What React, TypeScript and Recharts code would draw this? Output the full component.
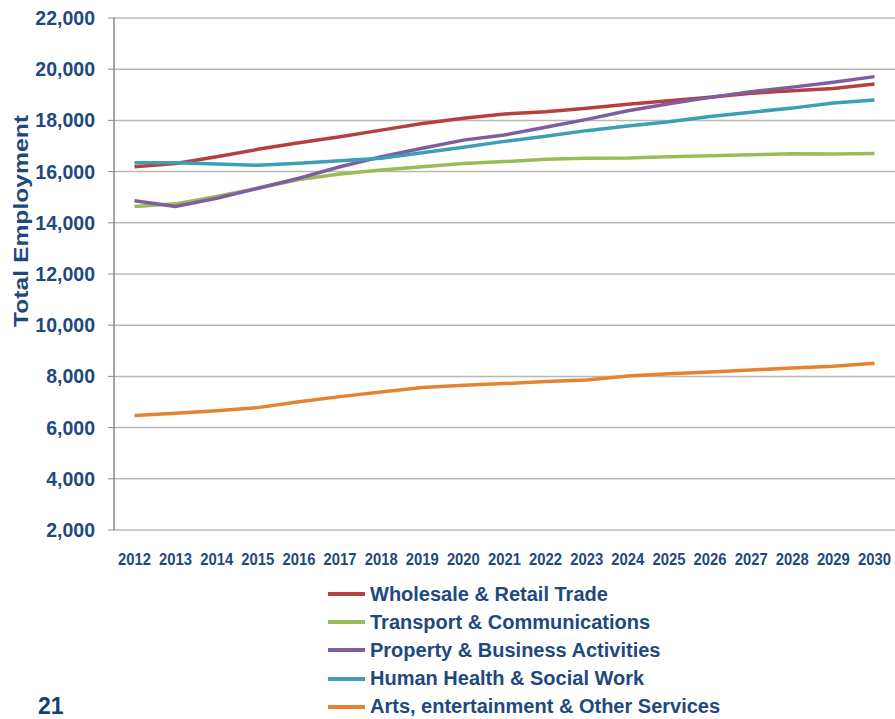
import React from 'react';
import { LineChart, Line, XAxis, YAxis, CartesianGrid } from 'recharts';

const years = ['2012','2013','2014','2015','2016','2017','2018','2019','2020','2021','2022','2023','2024','2025','2026','2027','2028','2029','2030'];
const wholesale = [16190,16320,16580,16870,17130,17360,17620,17880,18080,18250,18340,18470,18630,18770,18900,19060,19160,19250,19420];
const transport = [14640,14740,15030,15350,15690,15910,16060,16190,16320,16390,16480,16520,16530,16580,16620,16660,16700,16690,16710];
const property = [14860,14640,14960,15350,15740,16190,16580,16910,17230,17430,17730,18040,18380,18650,18900,19120,19300,19490,19710];
const health = [16350,16350,16300,16250,16330,16420,16520,16740,16950,17180,17380,17600,17780,17950,18150,18320,18480,18680,18800];
const arts = [6470,6560,6660,6780,7010,7210,7390,7570,7650,7720,7800,7860,8020,8100,8170,8250,8330,8400,8510];
const yTicks = [2000,4000,6000,8000,10000,12000,14000,16000,18000,20000,22000];
const boundaryTicks = Array.from({ length: years.length + 1 }, (_, i) => i);

const series = [
  { key: 'wholesale', name: 'Wholesale & Retail Trade', color: '#B5403D', values: wholesale },
  { key: 'transport', name: 'Transport & Communications', color: '#9BBB59', values: transport },
  { key: 'property', name: 'Property & Business Activities', color: '#7D5FA0', values: property },
  { key: 'health', name: 'Human Health & Social Work', color: '#3D9EB8', values: health },
  { key: 'arts', name: 'Arts, entertainment & Other Services', color: '#E8822F', values: arts },
];

const data = years.map((y, i) => {
  const row: any = { year: y };
  series.forEach(s => { row[s.key] = s.values[i]; });
  return row;
});

const NAVY = '#1F497D';
const FONT = '"Liberation Sans", Arial, sans-serif';

const YearTick = (props: any) => {
  const { x, y, payload } = props;
  return (
    <text x={x} y={y} dy={11} textAnchor="middle" fill={NAVY} fontSize={16.5} fontWeight="bold" fontFamily={FONT} textLength={33} lengthAdjust="spacingAndGlyphs">
      {payload.value}
    </text>
  );
};

export default function App() {
  return (
    <div style={{ position: 'absolute', left: 0, top: 0, width: 895, height: 719, background: '#fff', fontFamily: FONT }}>
      <LineChart width={895} height={719} data={data} margin={{ top: 18, right: 0, left: 0, bottom: 149 }}>
        <CartesianGrid vertical={false} stroke="#B8B8B8" strokeWidth={1.5} />
        <XAxis
          xAxisId="bound"
          type="number"
          domain={[0, years.length]}
          ticks={boundaryTicks}
          height={0}
          tick={() => <g />}
          tickSize={6}
          stroke="#888888"
          axisLine={{ stroke: '#888888', strokeWidth: 1.5 }}
          tickLine={{ stroke: '#888888', strokeWidth: 1 }}
        />
        <XAxis
          dataKey="year"
          height={40}
          padding={{ left: 20.5, right: 20.5 }}
          axisLine={false}
          tickLine={false}
          tickSize={0}
          tickMargin={24}
          interval={0}
          tick={<YearTick />}
        />
        <YAxis
          width={114}
          domain={[2000, 22000]}
          ticks={yTicks}
          interval={0}
          tickFormatter={(v: number) => v.toLocaleString('en-US')}
          tick={{ fill: NAVY, fontSize: 19.5, fontWeight: 'bold', fontFamily: FONT }}
          tickSize={6}
          tickMargin={13}
          axisLine={{ stroke: '#888888', strokeWidth: 1.5 }}
          tickLine={{ stroke: '#888888' }}
          label={{
            content: () => (
              <text x={28} y={221} transform="rotate(-90 28 221)" textAnchor="middle" fill={NAVY} fontSize={21} fontWeight="bold" fontFamily={FONT} textLength={212} lengthAdjust="spacingAndGlyphs">
                Total Employment
              </text>
            ),
          }}
        />
        {series.map(s => (
          <Line
            key={s.key}
            xAxisId={0}
            type="linear"
            dataKey={s.key}
            name={s.name}
            stroke={s.color}
            strokeWidth={3.5}
            dot={false}
            activeDot={false}
            isAnimationActive={false}
          />
        ))}
      </LineChart>
      <div style={{ position: 'absolute', left: 328, top: 580, fontFamily: FONT }}>
        {series.map((s, i) => (
          <div key={s.key} style={{ position: 'absolute', left: 0, top: i * 28.2, height: 28, display: 'flex', alignItems: 'center', whiteSpace: 'nowrap' }}>
            <span style={{ display: 'inline-block', width: 37, height: 4, background: s.color, marginRight: 5 }} />
            <span style={{ color: NAVY, fontSize: 20, fontWeight: 'bold' }}>{s.name}</span>
          </div>
        ))}
      </div>
      <div style={{ position: 'absolute', left: 38, top: 692, color: '#1A3A78', fontSize: 23, fontWeight: 'bold', fontFamily: FONT, lineHeight: '28px' }}>21</div>
    </div>
  );
}
